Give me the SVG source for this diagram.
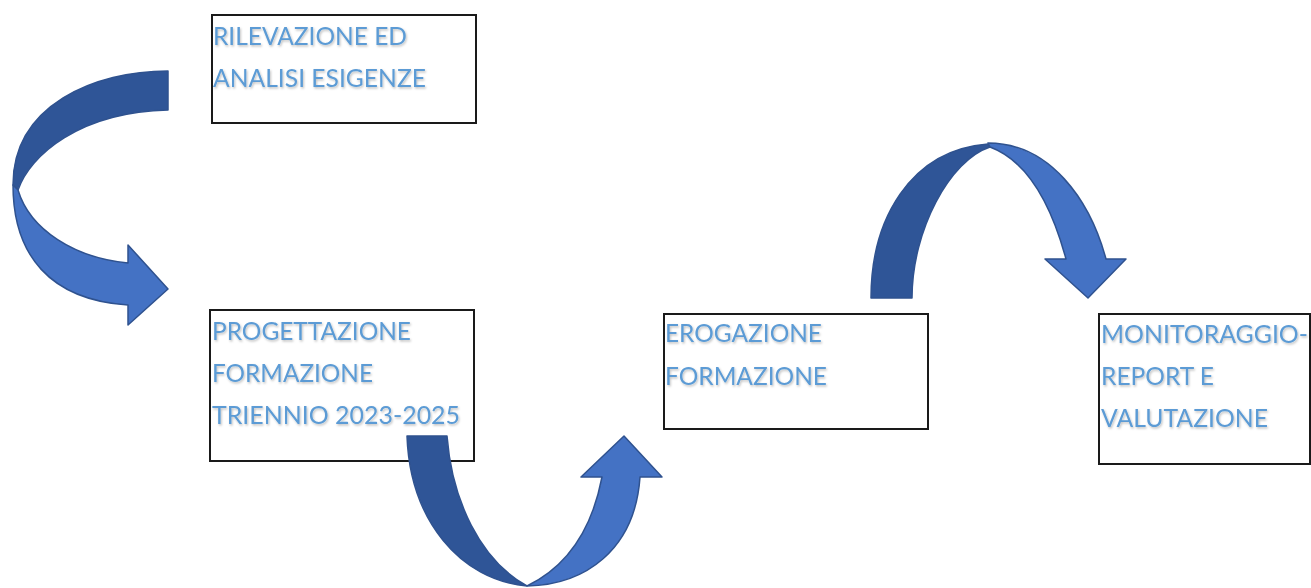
<svg xmlns="http://www.w3.org/2000/svg" width="1311" height="588" viewBox="0 0 1311 588">
<defs>
<filter id="sh" x="-5%" y="-20%" width="110%" height="150%">
<feDropShadow dx="1" dy="1.5" stdDeviation="1" flood-color="#000" flood-opacity="0.25"/>
</filter>
</defs>
<style>
.box{fill:#fff;stroke:#1a1a1a;stroke-width:2}
.t{font-family:Lato,"Liberation Sans",sans-serif;font-size:24.5px;fill:#5b9bd5;filter:url(#sh)}
.dk{fill:#2f5597;stroke:#2f528f;stroke-width:1.5;stroke-linejoin:round}
.lt{fill:#4472c4;stroke:#2f528f;stroke-width:1.5;stroke-linejoin:round}
</style>
<rect width="1311" height="588" fill="#fff"/>
<g id="n1">
<rect class="box" x="212" y="15" width="264" height="108"/>
<text class="t" x="213" y="44.5" textLength="194" lengthAdjust="spacingAndGlyphs">RILEVAZIONE ED</text>
<text class="t" x="213" y="86.5" textLength="213" lengthAdjust="spacingAndGlyphs">ANALISI ESIGENZE</text>
</g>
<g id="n2">
<rect class="box" x="210" y="310" width="264" height="151"/>
<text class="t" x="212" y="339.5" textLength="199" lengthAdjust="spacingAndGlyphs">PROGETTAZIONE</text>
<text class="t" x="212" y="381.5" textLength="161" lengthAdjust="spacingAndGlyphs">FORMAZIONE</text>
<text class="t" x="212" y="423.5" textLength="248" lengthAdjust="spacingAndGlyphs">TRIENNIO 2023-2025</text>
</g>
<g id="n3">
<rect class="box" x="664" y="314" width="264" height="115"/>
<text class="t" x="665" y="342" textLength="157" lengthAdjust="spacingAndGlyphs">EROGAZIONE</text>
<text class="t" x="665" y="384.5" textLength="162" lengthAdjust="spacingAndGlyphs">FORMAZIONE</text>
</g>
<g id="n4">
<rect class="box" x="1099" y="314" width="211" height="150"/>
<text class="t" x="1101" y="343" textLength="207" lengthAdjust="spacingAndGlyphs">MONITORAGGIO-</text>
<text class="t" x="1101" y="385" textLength="113" lengthAdjust="spacingAndGlyphs">REPORT E</text>
<text class="t" x="1101" y="427" textLength="167" lengthAdjust="spacingAndGlyphs">VALUTAZIONE</text>
</g>
<g id="connectors">
<g id="arrow1">
<path class="dk" d="M168,71 L168,110 C80,112 30,155 18,190 L13,185 C13,105 95,71 168,71 Z"/>
<path class="lt" d="M13,185 C13,255 50,300 128,305 L128,325 L168,289 L128,245 L128,263 C75,258 30,230 18,190 Z"/>
</g>
<g id="arrow2">
<path class="dk" d="M407,436 L447,436 C452,500 480,560 527,586 C460,580 410,520 407,436 Z"/>
<path class="lt" d="M527,586 C585,585 635,550 640,477 L662,477 L624,436 L581,477 L602,477 C590,540 560,570 527,586 Z"/>
</g>
<g id="arrow3">
<path class="dk" d="M871,298 C871,220 910,150 988,144 L990,147 C950,160 912,230 912,298 Z"/>
<path class="lt" d="M988,143 C1050,143 1090,200 1106,259 L1126,259 L1088,298 L1045,259 L1066,259 C1050,200 1025,160 990,147 Z"/>
</g>
</g>
</svg>
